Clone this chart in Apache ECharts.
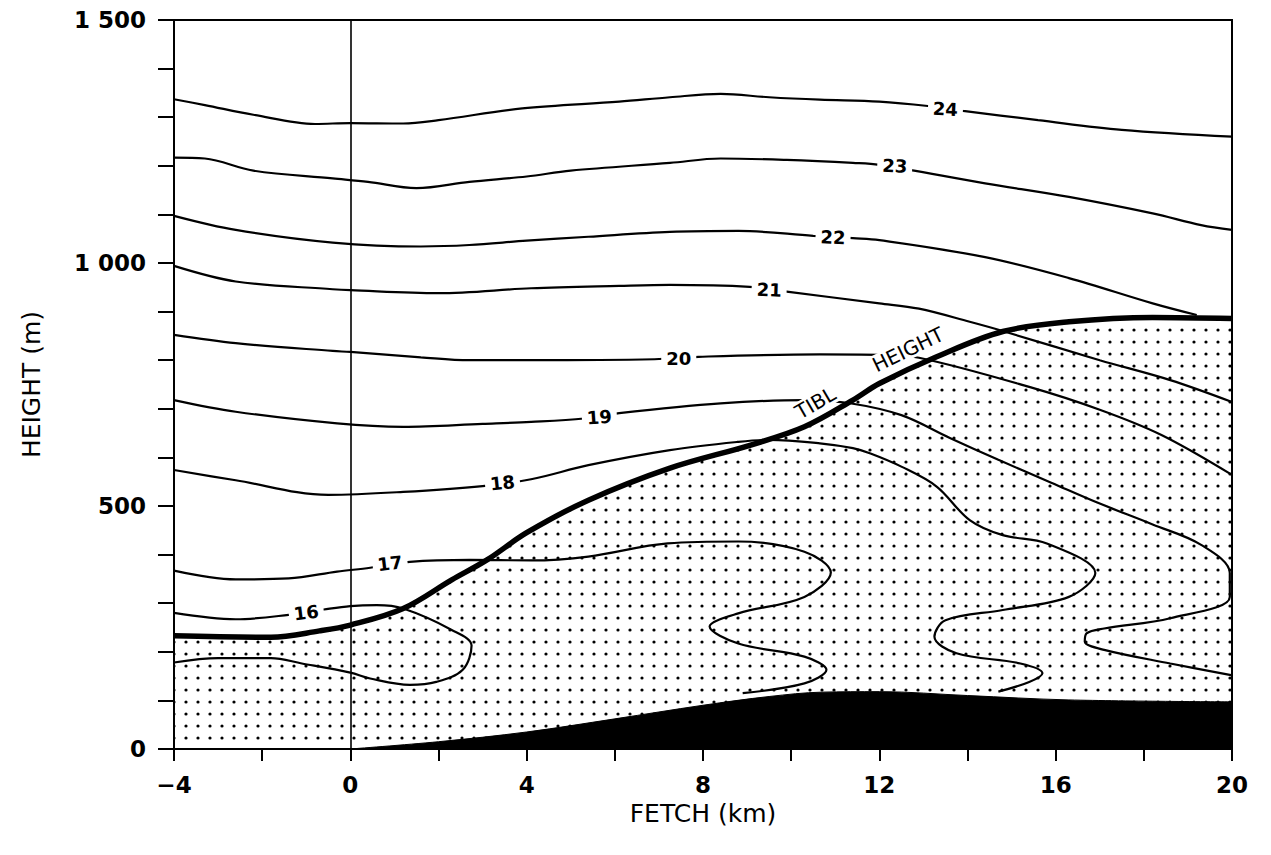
<!DOCTYPE html>
<html>
<head>
<meta charset="utf-8">
<script src="https://cdn.jsdelivr.net/npm/echarts@6/dist/echarts.min.js"></script>
<style>
html,body{margin:0;padding:0;background:#fff;}
#chart{width:1271px;height:855px;}
</style>
</head>
<body>
<div id="chart"></div>
<script>
// ---- tick labels ----
const xTickValues = [-4, 0, 4, 8, 12, 16, 20];
const xTickLabels = ['\u22124', '0', '4', '8', '12', '16', '20'];
const yTickValues = [0, 500, 1000, 1500];
const yTickLabels = ['0', '500', '1 000', '1 500'];
const xAxisTitle = 'FETCH (km)';
const yAxisTitle = 'HEIGHT (m)';
const coastFetch = 0;

// ---- TIBL height (fetch km, height m) ----
const tiblHeight = [[-4,233],[-1.8,230],[-0.7,243],[0,255],[1.2,289],[2.3,348],[3.1,389],[4,445],[5.4,512],[7.25,578],[9.1,626],[10.3,663],[11.4,718],[12,752],[13.3,807],[14.8,859],[16.3,879],[18.2,888],[20,886]];

// ---- ground (black) ----
const ground = [[0,0],[2,15],[4,35],[6,62],[8,90],[9.5,108],[10.7,117],[12,118],[14,110],[16.3,101],[20,97]];

// ---- potential temperature contours ----
const contour24 = [[-4,1337],[-3.3,1325],[-2.2,1305],[-0.8,1286],[0,1288],[1.2,1287],[2,1294],[3.9,1318],[6.1,1332],[7.25,1341],[8.4,1348],[9.5,1341],[10.65,1336],[12,1332],[13.1,1323],[13.9,1313],[15.6,1294],[17.5,1274],[20,1260]];
const contour23 = [[-4,1217],[-3.3,1215],[-2.2,1190],[-0.4,1174],[0.4,1167],[1.5,1154],[2.7,1167],[4,1178],[5,1190],[7.25,1206],[8.4,1215],[9.9,1212],[11.4,1206],[12,1202],[14.4,1164],[16.3,1136],[18.2,1102],[19.3,1078],[20,1068]];
const contour22 = [[-4,1097],[-2.6,1068],[-0.4,1042],[1.6,1034],[2.7,1037],[4,1046],[5.4,1054],[7.25,1064],[8.8,1066],[10.5,1056],[11.4,1051],[12,1047],[14.4,1012],[16.3,969],[18.2,917],[19.2,893]];
const contour21 = [[-4,994],[-2.6,962],[-0.4,946],[0,944],[2,938],[4.1,948],[6.1,953],[7.25,955],[9.06,951],[9.9,941],[12,917],[12.9,906],[14.05,879],[14.8,860],[17,800],[18.6,759],[20,714]];
const contour20 = [[-4,852],[-2.6,835],[-0.4,819],[0,817],[1.6,806],[2.7,800],[4.1,800],[6.9,802],[7.9,807],[10.65,812],[12,811],[12.9,805],[15.4,745],[17,698],[18.4,646],[20,564]];
const contour19 = [[-4,718],[-2.6,694],[-0.3,670],[1.2,663],[3,669],[4.1,673],[5.3,680],[6.1,691],[8.4,711],[10.3,718],[11.3,712],[12.5,687],[13.6,640],[14.7,595],[15.9,548],[17,505],[18.2,462],[19.3,420],[19.95,362],[19.95,313],[18.6,269],[17.1,248],[16.7,238],[16.66,221],[17.1,204],[18.6,176],[19.98,152]];
const contour18 = [[-4,574],[-2.6,553],[-0.5,523],[1.2,529],[3,541],[4.1,555],[5.4,584],[7.25,615],[8.8,632],[9.5,636],[10.65,629],[11.4,619],[11.8,608],[12.5,581],[13.3,540],[14.05,471],[14.8,440],[15.8,423],[16.9,362],[16.3,313],[14.8,286],[13.5,265],[13.25,231],[13.75,197],[15.2,176],[15.7,156],[15.4,138],[14.7,118]];
const contour17 = [[-4,367],[-2.6,349],[-1.4,351],[-0.3,365],[0.45,373],[1.35,385],[2.7,389],[4.1,388],[5.4,396],[7.2,423],[8.8,427],[10.3,406],[10.9,363],[10.3,313],[8.8,279],[8.15,252],[8.8,217],[10.3,190],[10.8,163],[10.3,135],[8.9,115]];
const contour16 = [[-4,280],[-2.6,267],[-1.4,276],[-0.6,287],[0,294],[0.6,296],[1.2,289],[2.3,245],[2.75,213],[2.55,163],[1.95,138],[1.35,132],[0.45,145],[0,157],[-1.1,176],[-1.8,187],[-3,187],[-4,178]];

// ---- in-line labels (fetch, height, text) ----
const contourLabels = [[-1.0,281,'16'],[0.9,382,'17'],[3.45,548,'18'],[5.65,683,'19'],[7.45,803,'20'],[9.5,945,'21'],[10.95,1053,'22'],[12.35,1200,'23'],[13.5,1317,'24']];
const tiblLabels = [[10.55,712,'TIBL'],[12.65,822,'HEIGHT']];

// ---- styling ----
const labelRotation = {'16':7,'17':7,'18':6,'19':4,'20':0,'21':-2,'22':-2,'23':-3,'24':-3,'TIBL':30,'HEIGHT':26};
const FONT = 'DejaVu Sans';

function dotPattern() {
  const c = document.createElement('canvas');
  c.width = 12; c.height = 12;
  const g = c.getContext('2d');
  g.fillStyle = '#000';
  g.beginPath(); g.arc(6, 6, 1.6, 0, Math.PI * 2); g.fill();
  return c;
}

const contours = [contour16, contour17, contour18, contour19, contour20, contour21, contour22, contour23, contour24];

const chart = echarts.init(document.getElementById('chart'), null, {renderer: 'svg'});

const labelBase = {
  show: true, position: 'inside', formatter: function (p) { return p.value[2]; },
  color: '#000', opacity: 1, fontFamily: FONT, textBorderWidth: 0, textBorderColor: 'transparent',
  textShadowBlur: 0, backgroundColor: '#fff'
};

const series = [];
series.push({
  type: 'line', data: tiblHeight, smooth: 0.35, symbol: 'none', silent: true, z: 1,
  lineStyle: {width: 0},
  areaStyle: {color: {image: dotPattern(), repeat: 'repeat'}, opacity: 1, origin: 'start'},
  markLine: {
    symbol: 'none', silent: true, label: {show: false},
    lineStyle: {color: '#000', width: 1.6, type: 'solid'},
    data: [{xAxis: coastFetch}]
  }
});
series.push({
  type: 'line', data: ground, smooth: 0.35, symbol: 'none', silent: true, z: 2,
  lineStyle: {width: 1, color: '#000'},
  areaStyle: {color: '#000', opacity: 1, origin: 'start'}
});
contours.forEach(function (c) {
  series.push({
    type: 'line', data: c, smooth: 0.35, symbol: 'none', silent: true, z: 3,
    lineStyle: {width: 2.2, color: '#000'}
  });
});
series.push({
  type: 'scatter', symbolSize: 0, silent: true, z: 4,
  itemStyle: {color: '#000', opacity: 1},
  emphasis: {disabled: true},
  data: contourLabels.map(function (d) {
    return {value: d, label: {rotate: labelRotation[d[2]]}};
  }),
  label: Object.assign({}, labelBase, {fontSize: 18, fontWeight: 'bold', padding: [1, 5]})
});
series.push({
  type: 'scatter', symbolSize: 0, silent: true, z: 4,
  itemStyle: {color: '#000', opacity: 1},
  emphasis: {disabled: true},
  data: tiblLabels.map(function (d) {
    return {value: d, label: {rotate: labelRotation[d[2]]}};
  }),
  label: Object.assign({}, labelBase, {fontSize: 20, padding: [0, 4]})
});
series.push({
  type: 'line', data: tiblHeight, smooth: 0.35, symbol: 'none', silent: true, z: 5,
  lineStyle: {width: 5.5, color: '#000'}
});

chart.setOption({
  backgroundColor: '#fff',
  animation: false,
  grid: {left: 174, right: 39, top: 20, bottom: 106, show: true, borderColor: '#000', borderWidth: 2, backgroundColor: 'transparent'},
  xAxis: {
    type: 'value', min: -4, max: 20, interval: 2,
    name: xAxisTitle, nameLocation: 'middle', nameGap: 40,
    nameTextStyle: {fontFamily: FONT, fontSize: 25, color: '#000'},
    axisLine: {show: true, onZero: false, lineStyle: {color: '#000', width: 2}},
    axisTick: {show: true, length: 12, lineStyle: {color: '#000', width: 2}},
    splitLine: {show: false},
    axisLabel: {
      margin: 24, color: '#000', fontFamily: FONT, fontSize: 23, fontWeight: 'bold',
      formatter: function (v) { const i = xTickValues.indexOf(v); return i >= 0 ? xTickLabels[i] : ''; }
    }
  },
  yAxis: {
    type: 'value', min: 0, max: 1500, interval: 100,
    name: yAxisTitle, nameLocation: 'middle', nameGap: 130,
    nameTextStyle: {fontFamily: FONT, fontSize: 25, color: '#000'},
    axisLine: {show: true, onZero: false, lineStyle: {color: '#000', width: 2}},
    axisTick: {show: true, length: 16, lineStyle: {color: '#000', width: 2}},
    splitLine: {show: false},
    axisLabel: {
      margin: 28, color: '#000', fontFamily: FONT, fontSize: 23, fontWeight: 'bold',
      formatter: function (v) { const i = yTickValues.indexOf(v); return i >= 0 ? yTickLabels[i] : ''; }
    }
  },
  series: series
});
</script>
</body>
</html>
